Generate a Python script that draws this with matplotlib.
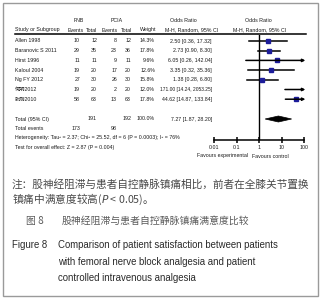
import matplotlib
matplotlib.use('Agg')
import matplotlib.pyplot as plt
from matplotlib.patches import Polygon, Rectangle

# data
studies = ['Allen 1998', 'Baranovic S 2011', 'Hirst 1996', 'Kaloul 2004',
           'Ng FY 2012', '何明2012', '张刚2010']
fnb_events = [10, 29, 11, 19, 27, 19, 58]
fnb_total = [12, 35, 11, 20, 30, 20, 63]
pcia_events = [8, 23, 9, 17, 26, 2, 13]
pcia_total = [12, 36, 11, 20, 30, 20, 63]
weights = [14.3, 17.8, 9.6, 12.6, 15.8, 12.0, 17.8]
odds = [2.50, 2.73, 6.05, 3.35, 1.38, 171.00, 44.62]
ci_low = [0.36, 0.90, 0.26, 0.32, 0.28, 14.24, 14.87]
ci_high = [17.32, 8.30, 142.04, 35.36, 6.80, 2053.25, 133.84]
total_or = [7.27, 1.87, 28.20]
xticks = [0.01, 0.1, 1, 10, 100]
xtick_labels = ['0.01', '0.1', '1', '10', '100']

W, H = 321, 300
TABLE_FONT = ['Liberation Sans', 'Noto Sans CJK SC']
CJK = ['Noto Sans CJK SC', 'DejaVu Sans']
TXT = '#1a1a1a'
FS = 3.8

fig = plt.figure(figsize=(W / 100, H / 100), dpi=100)
bg = fig.add_axes([0, 0, 1, 1])
bg.set_xlim(0, W)
bg.set_ylim(H, 0)
bg.axis('off')


def t(x, y, s, ha='left', size=FS, fam=None, **kw):
    bg.text(x, y, s, ha=ha, va='center', fontsize=size,
            family=fam or TABLE_FONT, color=kw.pop('color', TXT), **kw)


# outer frame
bg.add_patch(Rectangle((2.5, 2.5), 315, 293, fill=False, ec='#9a9a9a', lw=1))

# header
t(79, 21, 'FNB', ha='center')
t(117, 21, 'PCIA', ha='center')
t(170, 21, 'Odds Ratio')
t(258, 21, 'Odds Ratio', ha='center')
t(15, 30, 'Study or Subgroup')
t(76, 30, 'Events', ha='center')
t(92, 30, 'Total', ha='center')
t(110, 30, 'Events', ha='center')
t(127, 30, 'Total', ha='center')
t(148, 30, 'Weight', ha='center')
t(165, 30, 'M-H, Random, 95% CI')
t(260, 30, 'M-H, Random, 95% CI', ha='center')
bg.plot([15, 306], [34, 34], color='k', lw=1.1)

# rows
row_y = [41 + 9.7 * i for i in range(len(studies))]
for i, y in enumerate(row_y):
    t(15, y, studies[i])
    t(80, y, str(fnb_events[i]), ha='right')
    t(97, y, str(fnb_total[i]), ha='right')
    t(117, y, str(pcia_events[i]), ha='right')
    t(131, y, str(pcia_total[i]), ha='right')
    t(155, y, f'{weights[i]:.1f}%', ha='right')
    t(212, y, f'{odds[i]:.2f} [{ci_low[i]:.2f}, {ci_high[i]:.2f}]', ha='right',
      size=FS if ci_high[i] < 1000 else 3.5)

y_tot = 119
t(15, y_tot, 'Total (95% CI)')
t(97, y_tot, str(sum(fnb_total)), ha='right')
t(131, y_tot, str(sum(pcia_total)), ha='right')
t(155, y_tot, '100.0%', ha='right')
t(212, y_tot, f'{total_or[0]:.2f} [{total_or[1]:.2f}, {total_or[2]:.2f}]', ha='right')
t(15, 129, 'Total events')
t(80, 129, str(sum(fnb_events)), ha='right')
t(117, 129, str(sum(pcia_events)), ha='right')
t(15, 138, 'Heterogeneity: Tau² = 2.37; Chi² = 25.52, df = 6 (P = 0.0003); I² = 76%')
t(15, 147, 'Test for overall effect: Z = 2.87 (P = 0.004)')

# forest panel
x0, x1, ytop, ybot = 214, 304, 35, 140
ax = fig.add_axes([x0 / W, 1 - ybot / H, (x1 - x0) / W, (ybot - ytop) / H])
ax.set_xscale('log')
ax.set_xlim(0.01, 100)
ax.set_ylim(ybot, ytop)
ax.patch.set_alpha(0)
for s in ['top', 'left', 'right']:
    ax.spines[s].set_visible(False)
ax.spines['bottom'].set_linewidth(1.1)
ax.set_yticks([])
ax.set_xticks(xticks)
ax.set_xticklabels(xtick_labels, family=TABLE_FONT, fontsize=FS, color=TXT)
ax.minorticks_off()
ax.tick_params(axis='x', direction='inout', length=5, width=1.1, pad=1)
ax.axvline(1, color='k', lw=1.0)

for i, y in enumerate(row_y):
    lo = max(ci_low[i], 0.01)
    if ci_high[i] > 100:
        ax.annotate('', xy=(115, y), xytext=(lo, y), annotation_clip=False,
                    arrowprops=dict(arrowstyle='-|>', lw=1.1, color='k',
                                    mutation_scale=4, shrinkA=0, shrinkB=0))
    else:
        ax.plot([lo, ci_high[i]], [y, y], color='k', lw=1.1)
    ms = weights[i] ** 0.5 * 0.75
    ax.plot(odds[i], y, 's', ms=ms, color='#1c1c9a', mec='#1c1c9a')

ax.add_patch(Polygon([(total_or[1], y_tot), (total_or[0], y_tot - 3),
                      (total_or[2], y_tot), (total_or[0], y_tot + 3)],
                     closed=True, fc='k', ec='k', lw=0.5))

t(248, 156, 'Favours experimental', ha='right')
t(252, 156, 'Favours control')

# notes and captions
note_col = '#4a4a4a'
t(12, 184, '注：股神经阻滞与患者自控静脉镇痛相比，前者在全膝关节置换', size=7.7,
  fam=CJK, color=note_col)
t(12, 199, '镇痛中满意度较高($P$ < 0.05)。', size=7.7, fam=CJK, color=note_col)
t(26, 221, '图 8', size=7.1, fam=CJK, color='#5a5a5a')
t(62, 221, '股神经阻滞与患者自控静脉镇痛满意度比较', size=7.1, fam=CJK, color='#5a5a5a')
t(12, 245, 'Figure 8', size=6.9, fam=['Liberation Sans'], color='#2a2a2a')
t(58, 245, 'Comparison of patient satisfaction between patients', size=6.9,
  fam=['Liberation Sans'], color='#2a2a2a')
t(58, 262, 'with femoral nerve block analgesia and patient', size=6.9,
  fam=['Liberation Sans'], color='#2a2a2a')
t(58, 278, 'controlled intravenous analgesia', size=6.9,
  fam=['Liberation Sans'], color='#2a2a2a')

fig.savefig('out.png', dpi=100)
